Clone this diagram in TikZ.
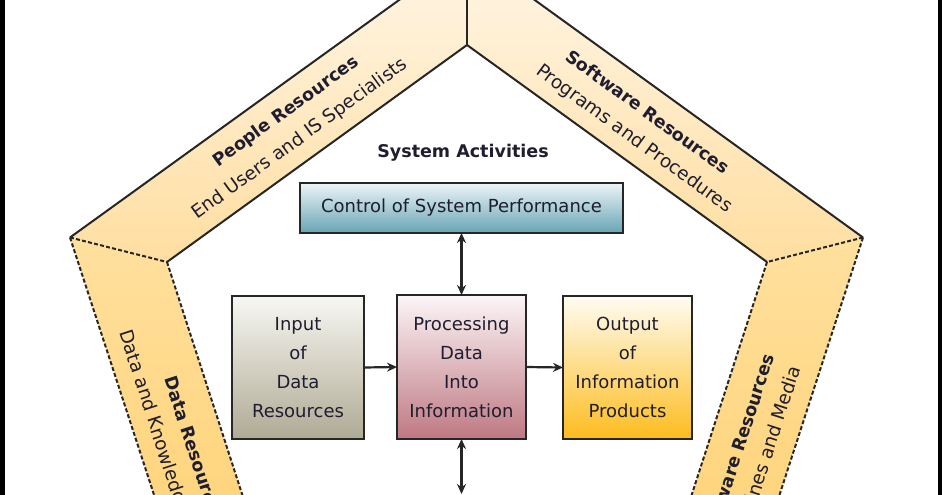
\documentclass[tikz,border=0pt]{standalone}
\usepackage{fontspec}
\setmainfont{DejaVu Sans}
\usetikzlibrary{arrows.meta}
\definecolor{ink}{HTML}{1E1E30}
\definecolor{edge}{HTML}{262626}
\begin{document}
\begin{tikzpicture}[x=1pt,y=-1pt,
  solidedge/.style={draw=edge, line width=2pt, line join=miter},
  dashedge/.style={draw=edge, line width=2pt, dash pattern=on 4pt off 2.2pt},
  boxnode/.style={draw=edge, line width=2.2pt, rectangle, inner sep=0pt, outer sep=0pt,
     text=ink, align=center, font=\fontsize{18}{29}\selectfont},
  titlelab/.style={text=ink, font=\bfseries\fontsize{17.5}{20}\selectfont, inner sep=0pt},
  sublab/.style={text=ink, font=\fontsize{18.5}{20}\selectfont, inner sep=0pt},
  arr/.style={draw=edge, line width=2.2pt, -{Stealth[length=10pt,width=9pt]}},
  dblarr/.style={draw=edge, line width=2.2pt, {Stealth[length=10pt,width=9pt]}-{Stealth[length=10pt,width=9pt]}}
]
\useasboundingbox (0,0) rectangle (942,495);
\clip (0,0) rectangle (942,495);
\fill[white] (0,0) rectangle (942,495);

% pentagon frame coordinates
\coordinate (OT) at (467,-49);
\coordinate (OL) at (70,237.5);
\coordinate (OR) at (863,237.5);
\coordinate (OBL) at (222,703);
\coordinate (OBR) at (712,703);
\coordinate (IT) at (467,45);
\coordinate (IL) at (167,262);
\coordinate (IR) at (767,262);
\coordinate (IBL) at (281.5,616);
\coordinate (IBR) at (652.5,616);

% band fills
\shade[top color={rgb,255:red,255;green,246;blue,232}, bottom color={rgb,255:red,255;green,222;blue,160}] (OL) -- (OT) -- (IT) -- (IL) -- cycle;
\shade[top color={rgb,255:red,255;green,246;blue,232}, bottom color={rgb,255:red,255;green,222;blue,160}] (OT) -- (OR) -- (IR) -- (IT) -- cycle;
\shade[top color={rgb,255:red,255;green,224;blue,158}, bottom color={rgb,255:red,255;green,204;blue,100}] (OL) -- (IL) -- (IBL) -- (OBL) -- cycle;
\shade[top color={rgb,255:red,255;green,224;blue,158}, bottom color={rgb,255:red,255;green,204;blue,100}] (OR) -- (OBR) -- (IBR) -- (IR) -- cycle;

% band edges
\draw[solidedge] (OL) -- (OT) -- (OR);
\draw[solidedge] (IL) -- (IT) -- (IR);
\draw[solidedge] (OT) -- (IT);
\draw[dashedge] (OL) -- (IL);
\draw[dashedge] (OR) -- (IR);
\draw[dashedge] (OL) -- (OBL);
\draw[dashedge] (IL) -- (IBL);
\draw[dashedge] (OR) -- (OBR);
\draw[dashedge] (IR) -- (IBR);

% band labels
\node[titlelab, rotate=36] (pt) at (286,112) {People Resources};
\node[sublab, rotate=36] (ps) at (300,139) {End Users and IS Specialists};
\node[titlelab, rotate=-36] (st) at (648,112) {Software Resources};
\node[sublab, rotate=-36] (ss) at (634,139) {Programs and Procedures};
\node[titlelab, rotate=-72] (dt) at (194,450) {Data Resources};
\node[sublab, rotate=-72] (ds) at (163,451) {Data and Knowledge Bases};
\node[titlelab, rotate=72] (ht) at (737,451) {Hardware Resources};
\node[sublab, rotate=72] (hs) at (765,457) {Machines and Media};

% system activities
\node[titlelab] (sa) at (463,153) {System Activities};

\node[boxnode, minimum width=323pt, minimum height=50pt,
  top color={rgb,255:red,236;green,245;blue,247}, bottom color={rgb,255:red,104;green,164;blue,181}]
  (ctrl) at (461.5,208) {Control of System Performance};
\node[boxnode, minimum width=132pt, minimum height=143pt,
  top color={rgb,255:red,247;green,247;blue,242}, bottom color={rgb,255:red,176;green,170;blue,148}]
  (inp) at (298,367.5) {Input\\of\\Data\\Resources};
\node[boxnode, minimum width=129pt, minimum height=144pt,
  top color={rgb,255:red,252;green,245;blue,247}, bottom color={rgb,255:red,190;green,120;blue,130}]
  (proc) at (461.5,367) {Processing\\Data\\Into\\Information};
\node[boxnode, minimum width=129pt, minimum height=143pt,
  top color={rgb,255:red,255;green,252;blue,242}, bottom color={rgb,255:red,253;green,188;blue,30}]
  (outp) at (627.5,367.5) {Output\\of\\Information\\Products};

% connectors
\draw[arr] (inp.east) -- (proc.west);
\draw[arr] (proc.east) -- (outp.west);
\draw[dblarr] (ctrl.south) -- (proc.north);
\coordinate (bot) at (461.5,494);
\draw[dblarr] (proc.south) -- (bot);

% side bars
\fill[black] (0,0) rectangle (5,495);
\fill[black] (938,0) rectangle (942,495);
\end{tikzpicture}
\end{document}
